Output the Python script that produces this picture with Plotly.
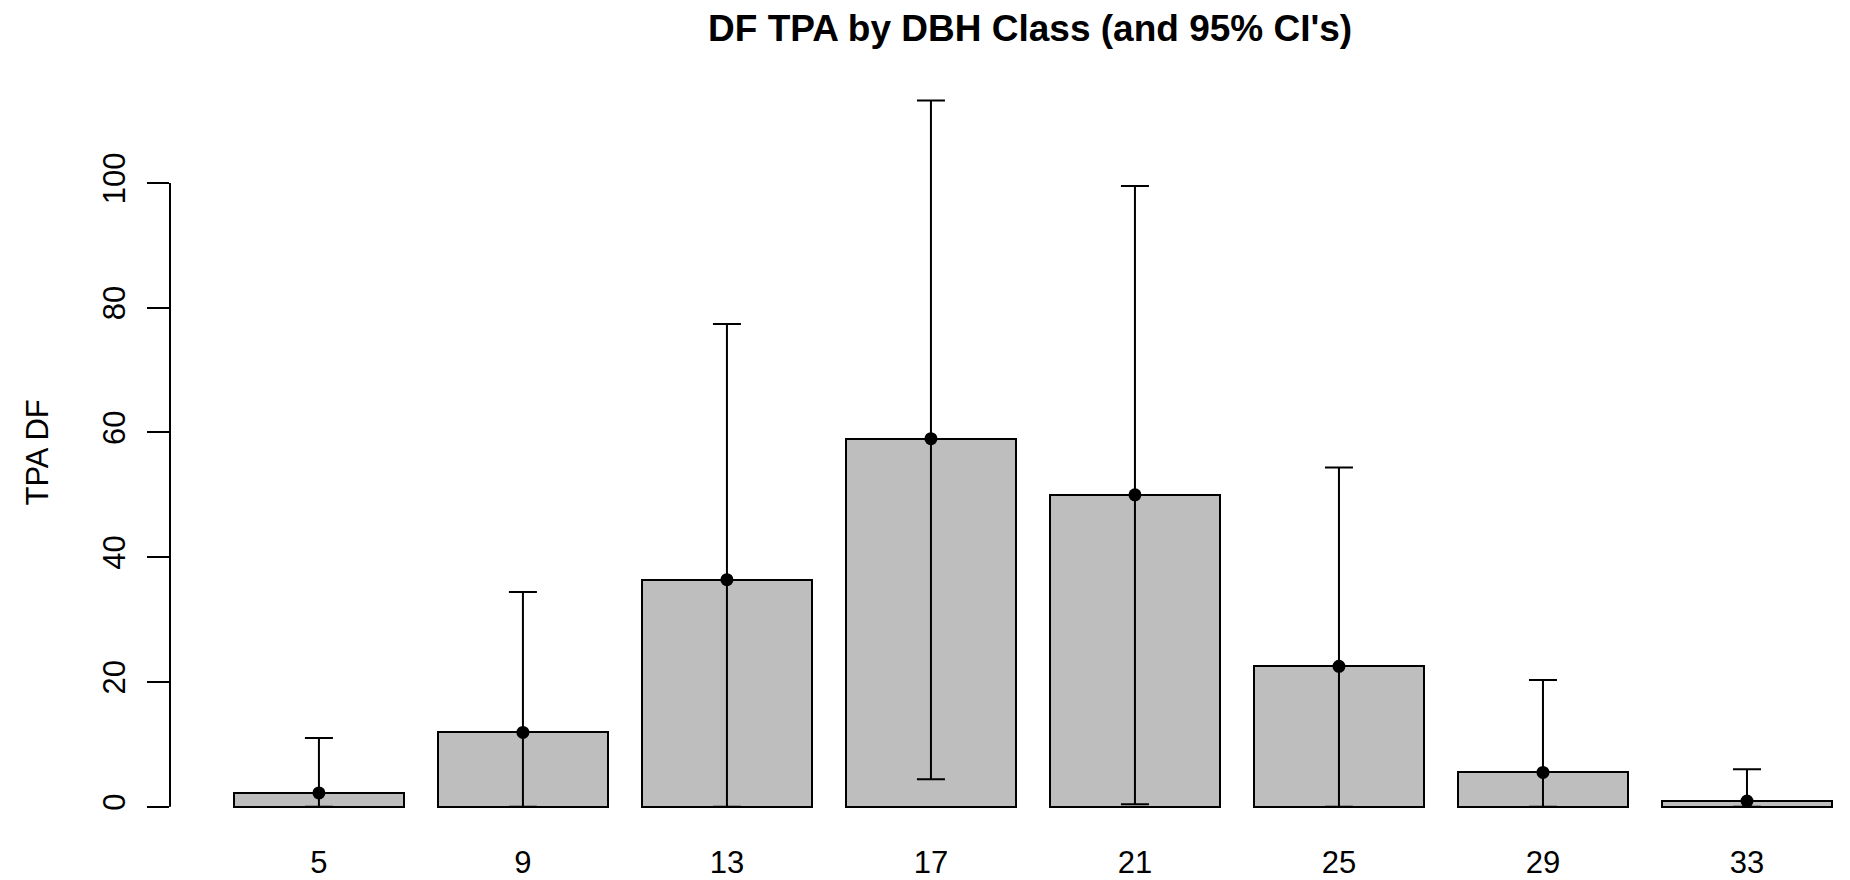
import plotly.graph_objects as go

# ---- data ----
dbh_classes = ["5", "9", "13", "17", "21", "25", "29", "33"]
tpa_mean = [2.2, 11.9, 36.4, 59.0, 50.0, 22.5, 5.5, 0.9]
ci_upper = [11.0, 34.4, 77.4, 113.2, 99.5, 54.4, 20.3, 6.0]
ci_lower = [0.0, 0.0, 0.0, 4.4, 0.4, 0.0, 0.0, 0.0]
y_ticks = [0, 20, 40, 60, 80, 100]

# R barplot layout: width 1, space 0.2
bar_width = 1.0
bar_space = 0.2
x_pos = [bar_space + bar_width / 2 + i * (bar_width + bar_space) for i in range(len(dbh_classes))]

FONT = "Liberation Sans, Arial, sans-serif"

fig = go.Figure()

fig.add_trace(go.Bar(
    x=x_pos, y=tpa_mean, width=bar_width,
    marker=dict(color="#BEBEBE", line=dict(color="black", width=2)),
    hoverinfo="skip", showlegend=False,
))

fig.add_trace(go.Scatter(
    x=x_pos, y=tpa_mean, mode="markers",
    marker=dict(color="black", size=13, symbol="circle"),
    error_y=dict(
        type="data", symmetric=False,
        array=[u - m for u, m in zip(ci_upper, tpa_mean)],
        arrayminus=[m - l for m, l in zip(tpa_mean, ci_lower)],
        color="black", thickness=2, width=14,
    ),
    showlegend=False,
))

# y axis line spanning the tick range (as R draws it)
fig.add_shape(type="line", xref="paper", yref="y", x0=0, x1=0,
              y0=min(y_ticks), y1=max(y_ticks),
              line=dict(color="black", width=2))

fig.update_layout(
    width=1842, height=872,
    margin=dict(l=162, r=0, t=62, b=45, autoexpand=False),
    paper_bgcolor="white", plot_bgcolor="white",
    font=dict(family=FONT, color="black"),
    title=dict(
        text="DF TPA by DBH Class (and 95% CI's)",
        font=dict(family=FONT, size=37, color="black", weight="bold"),
        xref="paper", x=0.512, xanchor="center",
        yref="container", y=1 - 20.5 / 872, yanchor="middle",
    ),
    xaxis=dict(
        range=[-0.176, 9.706],
        tickmode="array", tickvals=x_pos, ticktext=dbh_classes,
        ticks="", ticklen=0, showline=False, showgrid=False, zeroline=False,
        tickfont=dict(family=FONT, size=31, color="black"),
        ticklabelstandoff=6, automargin=False,
    ),
    yaxis=dict(
        range=[-4.54, 118.11],
        tickmode="array", tickvals=y_ticks,
        ticks="outside", ticklen=22, tickwidth=2, tickcolor="black",
        showline=False, showgrid=False, zeroline=False,
        tickangle=-90,
        tickfont=dict(family=FONT, size=31, color="black"),
        ticklabelstandoff=10, automargin=False,
    ),
    annotations=[dict(
        text="TPA DF", xref="paper", yref="paper", x=0, y=0.5,
        xshift=-133, textangle=-90, showarrow=False,
        xanchor="center", yanchor="middle",
        font=dict(family=FONT, size=31, color="black"),
    )],
    bargap=0,
)

fig.write_html("out.html")
